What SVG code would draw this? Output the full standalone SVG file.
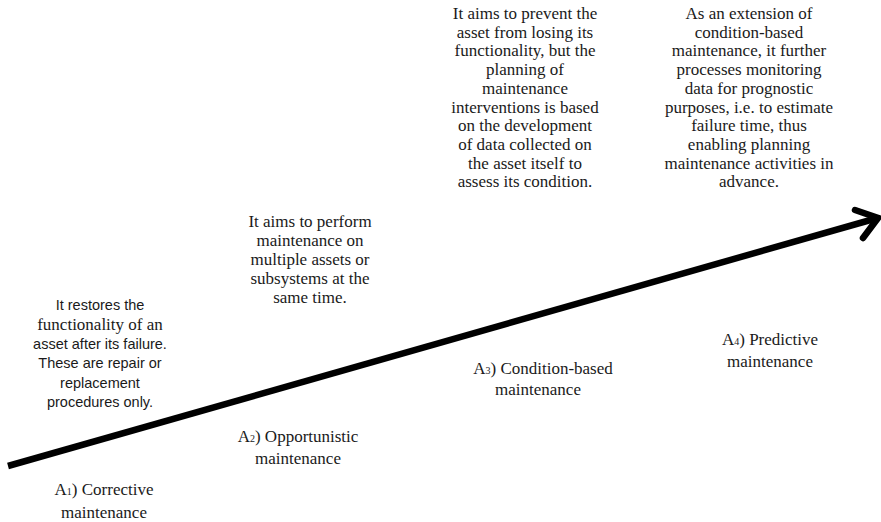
<svg xmlns="http://www.w3.org/2000/svg" width="881" height="522" viewBox="0 0 881 522">
<style>
.serif{font-family:"Liberation Serif","Times New Roman",serif;font-size:17px;fill:#1a1a1a;text-anchor:middle}
.sans{font-family:"Liberation Sans",Arial,sans-serif;font-size:14.5px;fill:#1a1a1a;text-anchor:middle}
.sub{font-size:10px}
.axis{stroke:#000;stroke-width:6.5;fill:none}
</style>
<rect width="881" height="522" fill="#fff"/>
<g id="connectors">
<line class="axis" x1="8" y1="466" x2="874" y2="219"/>
<path class="axis" d="M855,210 L878,218 L863,238" stroke-linecap="round" stroke-linejoin="miter"/>
</g>
<g id="A1">
<text class="serif" x="104" y="495">A<tspan class="sub">1</tspan>) Corrective</text>
<text class="serif" x="104" y="518">maintenance</text>
</g>
<g id="A1-desc">
<text class="sans" x="100" y="310">It restores the</text>
<text class="serif" x="100" y="330">functionality of an</text>
<text class="sans" x="100" y="349">asset after its failure.</text>
<text class="sans" x="100" y="368">These are repair or</text>
<text class="sans" x="100" y="388">replacement</text>
<text class="sans" x="100" y="407">procedures only.</text>
</g>
<g id="A2">
<text class="serif" x="298" y="442">A<tspan class="sub">2</tspan>) Opportunistic</text>
<text class="serif" x="298" y="464">maintenance</text>
</g>
<g id="A2-desc">
<text class="serif" x="310" y="227">It aims to perform</text>
<text class="serif" x="310" y="246">maintenance on</text>
<text class="serif" x="310" y="265">multiple assets or</text>
<text class="serif" x="310" y="284">subsystems at the</text>
<text class="serif" x="310" y="303">same time.</text>
</g>
<g id="A3">
<text class="serif" x="543" y="374">A<tspan class="sub">3</tspan>) Condition-based</text>
<text class="serif" x="538" y="395">maintenance</text>
</g>
<g id="A3-desc">
<text class="serif" x="525" y="19">It aims to prevent the</text>
<text class="serif" x="525" y="37.7">asset from losing its</text>
<text class="serif" x="525" y="56.4">functionality, but the</text>
<text class="serif" x="525" y="75.1">planning of</text>
<text class="serif" x="525" y="93.8">maintenance</text>
<text class="serif" x="525" y="112.5">interventions is based</text>
<text class="serif" x="525" y="131.2">on the development</text>
<text class="serif" x="525" y="149.9">of data collected on</text>
<text class="serif" x="525" y="168.6">the asset itself to</text>
<text class="serif" x="525" y="187.3">assess its condition.</text>
</g>
<g id="A4">
<text class="serif" x="770" y="345">A<tspan class="sub">4</tspan>) Predictive</text>
<text class="serif" x="770" y="367">maintenance</text>
</g>
<g id="A4-desc">
<text class="serif" x="749" y="19">As an extension of</text>
<text class="serif" x="749" y="37.7">condition-based</text>
<text class="serif" x="749" y="56.4">maintenance, it further</text>
<text class="serif" x="749" y="75.1">processes monitoring</text>
<text class="serif" x="749" y="93.8">data for prognostic</text>
<text class="serif" x="749" y="112.5">purposes, i.e. to estimate</text>
<text class="serif" x="749" y="131.2">failure time, thus</text>
<text class="serif" x="749" y="149.9">enabling planning</text>
<text class="serif" x="749" y="168.6">maintenance activities in</text>
<text class="serif" x="749" y="187.3">advance.</text>
</g>
</svg>
